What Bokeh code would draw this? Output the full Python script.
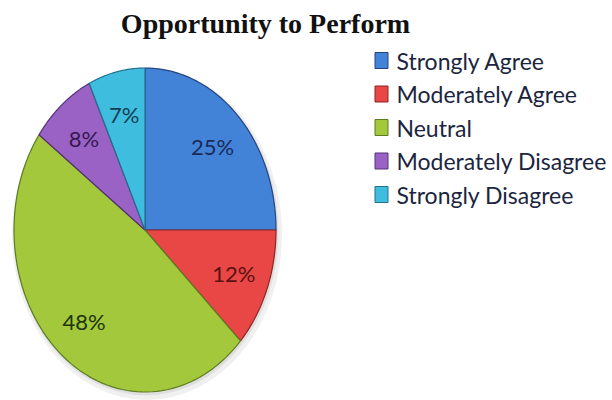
import numpy as np
from bokeh.plotting import figure
from bokeh.models import Range1d, ColumnDataSource
from bokeh.core.properties import value
from bokeh.embed import file_html
from bokeh.resources import INLINE

# Survey responses
categories = ["Strongly Agree", "Moderately Agree", "Neutral",
              "Moderately Disagree", "Strongly Disagree"]
shares = [25, 12, 48, 8, 7]
title_text = "Opportunity to Perform"

# Styling
fill_colors = ["#4283d8", "#e94646", "#a3c83c", "#9a62c4", "#3fbddf"]
edge_colors = ["#22457e", "#8e2424", "#5c7d22", "#553277", "#23708e"]
label_colors = ["#1a2a5a", "#5a1212", "#1f3308", "#35184f", "#123d52"]
label_font = value("Lato")

W, H = 612, 400
p = figure(width=W, height=H, output_backend="svg", toolbar_location=None,
           x_range=Range1d(0, W), y_range=Range1d(H, 0),
           x_axis_type=None, y_axis_type=None, min_border=0)
p.grid.visible = False
p.outline_line_color = None
p.background_fill_color = "white"
p.border_fill_color = "white"

# Pie geometry (drawn as an ellipse, clockwise from 12 o'clock)
cx, cy, rx, ry = 144.5, 229.5, 131.0, 162.0
frac = np.array(shares, dtype=float) / sum(shares)
cum = np.concatenate([[0.0], np.cumsum(frac)])

xs, ys = [], []
for a0, a1 in zip(cum[:-1], cum[1:]):
    t = np.linspace(a0, a1, 80) * 2 * np.pi
    xs.append([cx] + list(cx + rx * np.sin(t)))
    ys.append([cy] + list(cy - ry * np.cos(t)))

# soft drop shadow
p.ellipse(x=cx + 2, y=cy + 4, width=2 * rx + 8, height=2 * ry + 8,
          fill_color="#808080", fill_alpha=0.12, line_color=None)
p.ellipse(x=cx + 1, y=cy + 2, width=2 * rx + 3, height=2 * ry + 3,
          fill_color="#808080", fill_alpha=0.15, line_color=None)

slices = ColumnDataSource(dict(xs=xs, ys=ys, fill=fill_colors, edge=edge_colors))
p.patches(xs="xs", ys="ys", source=slices, fill_color="fill",
          line_color="edge", line_width=1.2)

# percentage labels inside the slices
mid = (cum[:-1] + cum[1:]) / 2 * 2 * np.pi
lab_r = 0.73
labels = ColumnDataSource(dict(
    x=cx + lab_r * rx * np.sin(mid),
    y=cy - lab_r * ry * np.cos(mid),
    text=[f"{v}%" for v in shares],
    color=label_colors))
p.text(x="x", y="y", text="text", source=labels, text_color="color",
       text_align="center", text_baseline="middle",
       text_font=label_font, text_font_size="22px")

# title
p.text(x=[265], y=[23], text=[title_text], text_align="center",
       text_baseline="middle", text_color="#111111",
       text_font=value("Liberation Serif"), text_font_style="bold",
       text_font_size="28px")

# legend
n = len(categories)
leg_y = 60 + 33.5 * np.arange(n)
p.rect(x=[381] * n, y=leg_y, width=13, height=16, fill_color=fill_colors,
       line_color=edge_colors, line_width=1)
p.text(x=[396] * n, y=leg_y, text=categories, text_align="left",
       text_baseline="middle", text_color="#1c2540",
       text_font=label_font, text_font_size="23px")

open("out.html", "w").write(file_html(p, INLINE))
